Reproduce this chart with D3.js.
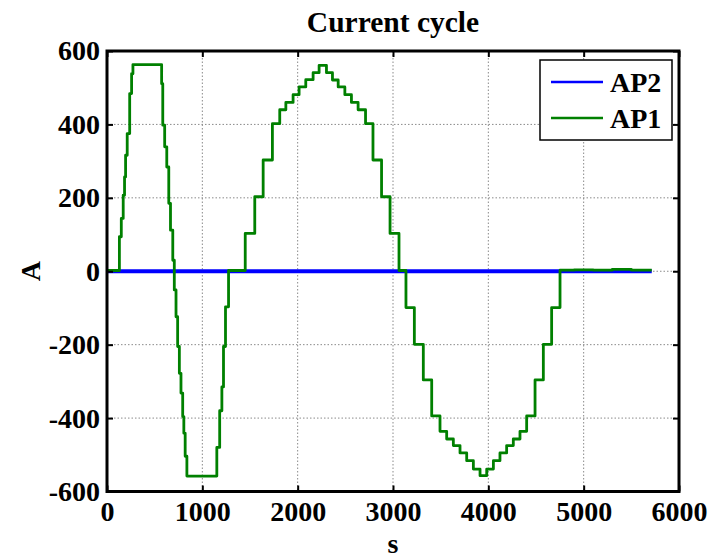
<!DOCTYPE html>
<html>
<head>
<meta charset="utf-8">
<script src="https://cdn.jsdelivr.net/npm/d3@7"></script>
<style>
  html, body { margin: 0; padding: 0; background: #fff; }
  svg { display: block; }
  text { font-family: "Liberation Serif", "Times New Roman", serif; font-weight: bold; }
</style>
</head>
<body>
<svg id="chart" width="710" height="559"></svg>
<script>
// ---- data ----
const titleText = "Current cycle";
const xLabel = "s";
const yLabel = "A";
const xTicks = [0, 1000, 2000, 3000, 4000, 5000, 6000];
const yTicks = [-600, -400, -200, 0, 200, 400, 600];
const seriesNames = ["AP2", "AP1"];
const seriesColors = ["#0000ff", "#008000"];

// AP2: stays at zero across the cycle
const ap2Time = [0, 5714];
const ap2Current = [0, 0];

// AP1: stepped current profile (step-after)
const ap1Time = [0, 130, 150, 170, 184, 195, 212, 238, 258, 272,
  573, 585, 605, 627, 648, 666, 690, 706, 724, 741, 759, 776, 794, 806, 820, 838,
  1152, 1182, 1205, 1222, 1243, 1275,
  1450, 1550, 1638, 1735, 1812, 1876, 1952, 2015, 2085, 2162, 2225,
  2302, 2365, 2425, 2495, 2564, 2634, 2712, 2790, 2880, 2969, 3063,
  3136, 3224, 3318, 3406, 3493, 3563, 3633, 3703, 3773, 3843, 3913,
  3983, 4053, 4122, 4192, 4262, 4332, 4402, 4490, 4577, 4664, 4752,
  4900, 5100, 5300, 5500, 5714];
const ap1Current = [2, 94, 144, 207, 257, 316, 375, 484, 538, 563,
  511, 398, 339, 284, 185, 112, 30, -51, -124, -205, -278, -332, -396, -441, -504, -558,
  -480, -380, -315, -205, -97, 2,
  103, 203, 303, 402, 440, 460, 481, 502, 522, 541, 561,
  541, 521, 502, 481, 460, 440, 402, 303, 203, 103, 2,
  -99, -199, -296, -394, -436, -457, -475, -495, -516, -539, -557,
  -539, -516, -495, -475, -457, -436, -394, -296, -199, -99, 3,
  4, 3, 5, 3, 3];

// ---- layout ----
const svg = d3.select("#chart");
const pL = 107, pR = 679, pT = 51, pB = 491.5;
const fontSize = 28;

const x = d3.scaleLinear().domain([0, 6000]).range([pL, pR]);
const y = d3.scaleLinear().domain([-600, 600]).range([pB, pT]);

// grid
const grid = svg.append("g");
grid.selectAll("line.gx").data(xTicks).join("line")
  .attr("x1", d => x(d)).attr("x2", d => x(d))
  .attr("y1", pT).attr("y2", pB)
  .attr("stroke", "#8a8a8a").attr("stroke-width", 1).attr("stroke-dasharray", "1.5,2");
grid.selectAll("line.gy").data(yTicks).join("line")
  .attr("y1", d => y(d)).attr("y2", d => y(d))
  .attr("x1", pL).attr("x2", pR)
  .attr("stroke", "#8a8a8a").attr("stroke-width", 1).attr("stroke-dasharray", "1.5,2");

// series
const line = d3.line().x(d => x(d[0])).y(d => y(d[1])).curve(d3.curveStepAfter);
const ap2 = ap2Time.map((t, i) => [t, ap2Current[i]]);
const ap1 = ap1Time.map((t, i) => [t, ap1Current[i]]);
svg.append("path").datum(ap2).attr("d", line)
  .attr("fill", "none").attr("stroke", seriesColors[0]).attr("stroke-width", 4);
svg.append("path").datum(ap1).attr("d", line)
  .attr("fill", "none").attr("stroke", seriesColors[1]).attr("stroke-width", 2.8)
  .attr("stroke-linejoin", "round");

// axes (inward ticks)
const fmt = d => String(d);
const axB = svg.append("g").attr("transform", `translate(0,${pB})`)
  .call(d3.axisBottom(x).tickValues(xTicks).tickFormat(fmt).tickSizeInner(-6).tickSizeOuter(0).tickPadding(10));
const axL = svg.append("g").attr("transform", `translate(${pL},0)`)
  .call(d3.axisLeft(y).tickValues(yTicks).tickFormat(fmt).tickSizeInner(-6).tickSizeOuter(0).tickPadding(7));
const axT = svg.append("g").attr("transform", `translate(0,${pT})`)
  .call(d3.axisTop(x).tickValues(xTicks).tickFormat("").tickSizeInner(-6).tickSizeOuter(0));
const axR = svg.append("g").attr("transform", `translate(${pR},0)`)
  .call(d3.axisRight(y).tickValues(yTicks).tickFormat("").tickSizeInner(-6).tickSizeOuter(0));
[axB, axL, axT, axR].forEach(a => {
  a.select(".domain").remove();
  a.selectAll(".tick line").attr("stroke", "#000").attr("stroke-width", 2);
  a.selectAll(".tick text").attr("fill", "#000")
    .style("font-family", '"Liberation Serif", serif').style("font-weight", "bold")
    .style("font-size", fontSize + "px");
});

// box
svg.append("rect").attr("x", pL).attr("y", pT)
  .attr("width", pR - pL).attr("height", pB - pT)
  .attr("fill", "none").attr("stroke", "#000").attr("stroke-width", 3);

// title & labels
svg.append("text").attr("x", 393).attr("y", 32)
  .attr("text-anchor", "middle").style("font-size", "29.5px").text(titleText);
svg.append("text").attr("x", (pL + pR) / 2).attr("y", 553)
  .attr("text-anchor", "middle").style("font-size", fontSize + "px").text(xLabel);
svg.append("text").attr("transform", `translate(40,${(pT + pB) / 2}) rotate(-90)`)
  .attr("text-anchor", "middle").style("font-size", fontSize + "px").text(yLabel);

// legend
const lg = svg.append("g");
lg.append("rect").attr("x", 540).attr("y", 60).attr("width", 132).attr("height", 80)
  .attr("fill", "#fff").attr("stroke", "#000").attr("stroke-width", 1.5);
const lgY = [82, 118];
seriesNames.forEach((n, i) => {
  lg.append("line").attr("x1", 551).attr("x2", 603).attr("y1", lgY[i]).attr("y2", lgY[i])
    .attr("stroke", seriesColors[i]).attr("stroke-width", 2.5);
  lg.append("text").attr("x", 610).attr("y", lgY[i] + 10)
    .style("font-size", fontSize + "px").text(n);
});
</script>
</body>
</html>
